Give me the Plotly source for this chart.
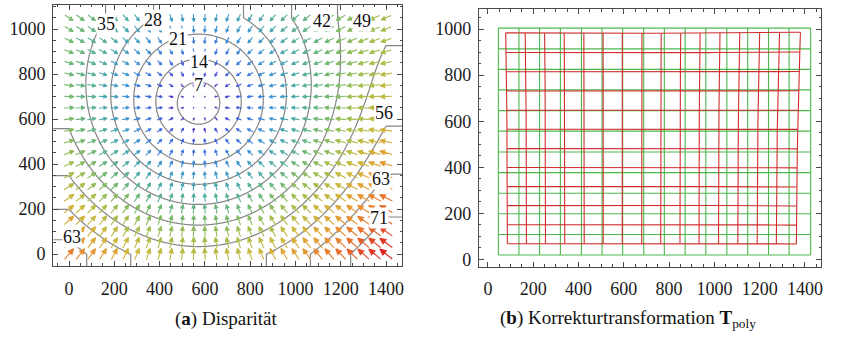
import numpy as np
import plotly.graph_objects as go
from plotly.colors import sample_colorscale

# ---------------------------------------------------------------
# Disparity model: d(p) = -(p - c) * k(u, w),  u=(x-cx)/1000, w=(y-cy)/1000
# ---------------------------------------------------------------
center_x, center_y = 572.0, 669.0
gain_terms = [(0, 0), (0, 1), (0, 2), (2, 0), (2, 1)]      # exponents (u, w)
gain_coefs = [0.0748, -0.0158, -0.0192, -0.0148, -0.0159]

image_w, image_h = 1400, 1050      # sensor extent in pixels
arrow_step = 50                    # spacing of the vector samples

# contour levels and where their labels sit
contour_levels = [7, 14, 21, 28, 35, 42, 49, 56, 63]
contour_top_level = 71
label_text = ["7", "14", "21", "28", "35", "42", "49", "56", "63", "71", "63"]
label_x = [570, 573, 482, 369, 163, 1116, 1294, 1393, 1378, 1371, 14]
label_y = [752, 853, 956, 1038, 1023, 1034, 1034, 629, 335, 159, 74]

# reference grid for the correction transformation (panel b)
green_x = [46, 137, 228, 320, 413, 504, 595, 688, 779, 871, 962, 1055, 1147, 1239, 1330, 1425]
green_y = [19, 108, 198, 287, 377, 466, 557, 646, 736, 825, 914, 1004]

tick_x = [0, 200, 400, 600, 800, 1000, 1200, 1400]
tick_y = [0, 200, 400, 600, 800, 1000]

rainbow = [
    [0.00, "rgb(120,28,134)"],
    [0.10, "rgb(78,62,200)"],
    [0.20, "rgb(62,108,226)"],
    [0.30, "rgb(64,148,212)"],
    [0.40, "rgb(78,172,168)"],
    [0.50, "rgb(112,184,116)"],
    [0.60, "rgb(162,190,78)"],
    [0.70, "rgb(206,184,60)"],
    [0.80, "rgb(232,148,50)"],
    [0.90, "rgb(230,98,40)"],
    [1.00, "rgb(218,33,34)"],
]

FONT = "Liberation Serif"
AXIS_COLOR = "#4a4a4a"
PX = 4.41          # data units per screen pixel in panel (a)


def gain(x, y):
    u = (np.asarray(x, float) - center_x) / 1000.0
    w = (np.asarray(y, float) - center_y) / 1000.0
    k = np.zeros_like(u)
    for (pu, pw), c in zip(gain_terms, gain_coefs):
        k = k + c * u ** pu * w ** pw
    return k


def disparity(x, y):
    k = gain(x, y)
    return -(np.asarray(x, float) - center_x) * k, -(np.asarray(y, float) - center_y) * k


fig = go.Figure()

# ---------------- panel (a): vector field ----------------
ax_pts = np.arange(0, image_w + 1, arrow_step)
ay_pts = np.arange(0, image_h + 1, arrow_step)
GX, GY = np.meshgrid(ax_pts, ay_pts)
DX, DY = disparity(GX, GY)
MAG = np.hypot(DX, DY)
m_max = MAG.max()

n_bins = 64
groups = {}
for px, py, dx, dy, m in zip(GX.ravel(), GY.ravel(), DX.ravel(), DY.ravel(), MAG.ravel()):
    b = int(round(m / m_max * (n_bins - 1)))
    # arrow length on screen (pixels), converted to data units
    L = (0.16 * m + 2.8 * min(1.0, m / 10.0) + 0.6) * PX
    if m > 1e-9:
        ex, ey = dx / m, dy / m
    else:
        ex, ey = 1.0, 0.0
    nx, ny = -ey, ex
    tx, ty = px - ex * L / 2, py - ey * L / 2
    hx, hy = px + ex * L / 2, py + ey * L / 2
    h = 0.38 * L
    hw = 0.17 * L
    bx, by = hx - ex * h, hy - ey * h
    xs = [tx, bx, bx + nx * hw, hx, bx - nx * hw, bx, tx, None]
    ys = [ty, by, by + ny * hw, hy, by - ny * hw, by, ty, None]
    g = groups.setdefault(b, ([], []))
    g[0].extend(xs)
    g[1].extend(ys)

for b in sorted(groups):
    col = sample_colorscale(rainbow, [b / (n_bins - 1)])[0]
    xs, ys = groups[b]
    fig.add_trace(go.Scatter(
        x=xs, y=ys, mode="lines", fill="toself", fillcolor=col,
        line=dict(color=col, width=1.1), hoverinfo="skip", showlegend=False,
        xaxis="x", yaxis="y"))

# contour lines of the disparity magnitude (clamped to the sensor outside)
cx_grid = np.linspace(-70, 1472, 320)
cy_grid = np.linspace(-53, 1107, 250)
CX, CY = np.meshgrid(np.clip(cx_grid, 0, image_w), np.clip(cy_grid, 0, image_h))
cdx, cdy = disparity(CX, CY)
CM = np.hypot(cdx, cdy)
gray = [[0, "#858585"], [1, "#858585"]]
fig.add_trace(go.Contour(
    x=cx_grid, y=cy_grid, z=CM, colorscale=gray, showscale=False,
    contours=dict(start=contour_levels[0], end=contour_levels[-1],
                  size=contour_levels[1] - contour_levels[0], coloring="lines"),
    line=dict(width=1.2), hoverinfo="skip", xaxis="x", yaxis="y"))
fig.add_trace(go.Contour(
    x=cx_grid, y=cy_grid, z=CM, colorscale=gray, showscale=False,
    contours=dict(start=contour_top_level, end=contour_top_level, size=1, coloring="lines"),
    line=dict(width=1.2), hoverinfo="skip", xaxis="x", yaxis="y"))

for t, lx, ly in zip(label_text, label_x, label_y):
    fig.add_annotation(x=lx, y=ly, xref="x", yref="y", text=t, showarrow=False,
                       xanchor="center", yanchor="middle", bgcolor="white", borderpad=0,
                       font=dict(family=FONT, size=18, color="#111"))

# ---------------- panel (b): correction grid ----------------
green_col = "#4cb84c"
red_col = "#cf2d2d"
gx0, gx1 = green_x[0], green_x[-1]
gy0, gy1 = green_y[0], green_y[-1]

gxs, gys = [], []
for x in green_x:
    gxs += [x, x, None]
    gys += [gy0, gy1, None]
for y in green_y:
    gxs += [gx0, gx1, None]
    gys += [y, y, None]
fig.add_trace(go.Scatter(x=gxs, y=gys, mode="lines", line=dict(color=green_col, width=1.1),
                         hoverinfo="skip", showlegend=False, xaxis="x2", yaxis="y2"))

rxs, rys = [], []
for x in green_x:
    yy = np.linspace(gy0, gy1, 40)
    xx = np.full_like(yy, x, dtype=float)
    ddx, ddy = disparity(xx, yy)
    rxs += list(xx + ddx) + [None]
    rys += list(yy + ddy) + [None]
for y in green_y:
    xx = np.linspace(gx0, gx1, 60)
    yy = np.full_like(xx, y, dtype=float)
    ddx, ddy = disparity(xx, yy)
    rxs += list(xx + ddx) + [None]
    rys += list(yy + ddy) + [None]
fig.add_trace(go.Scatter(x=rxs, y=rys, mode="lines", line=dict(color=red_col, width=1.1),
                         hoverinfo="skip", showlegend=False, xaxis="x2", yaxis="y2"))

# ---------------- axes ----------------
W, H = 842, 347


def xdom(a, b):
    return [a / W, b / W]


def ydom(top, bottom):
    return [1 - bottom / H, 1 - top / H]


def axis_style(tickvals, rng, dom, anchor, standoff):
    return dict(
        domain=dom, range=rng, anchor=anchor, tickvals=tickvals,
        ticktext=[str(v) for v in tickvals],
        showgrid=False, zeroline=False, showline=True, mirror="allticks",
        linecolor=AXIS_COLOR, linewidth=1, ticks="inside", ticklen=5,
        tickcolor=AXIS_COLOR, tickwidth=1,
        minor=dict(dtick=50, tick0=0, ticks="inside", ticklen=2.5,
                   tickcolor=AXIS_COLOR, showgrid=False),
        tickfont=dict(family=FONT, size=18, color="#1a1a1a"),
        ticklabelstandoff=standoff,
    )


fig.update_layout(
    width=W, height=H, margin=dict(l=0, r=0, t=0, b=0),
    paper_bgcolor="white", plot_bgcolor="white", showlegend=False,
    xaxis=axis_style(tick_x, [-70, 1472], xdom(53.3, 403.3), "y", 6),
    yaxis=axis_style(tick_y, [-53, 1107], ydom(5, 268.3), "x", 3),
    xaxis2=axis_style(tick_x, [-40, 1471], xdom(480, 823), "y2", 6),
    yaxis2=axis_style(tick_y, [-31.4, 1086], ydom(9.3, 269), "x2", 3),
)

fig.add_annotation(x=227 / W, y=1 - 322 / H, xref="paper", yref="paper",
                   xanchor="center", yanchor="middle",
                   text="(<b>a</b>) Disparität", showarrow=False,
                   font=dict(family=FONT, size=19, color="#111"))
fig.add_annotation(x=629 / W, y=1 - 322 / H, xref="paper", yref="paper",
                   xanchor="center", yanchor="middle",
                   text="(<b>b</b>) Korrekturtransformation <b>T</b><sub>poly</sub>",
                   showarrow=False, font=dict(family=FONT, size=19, color="#111"))

fig.write_html("out.html")
